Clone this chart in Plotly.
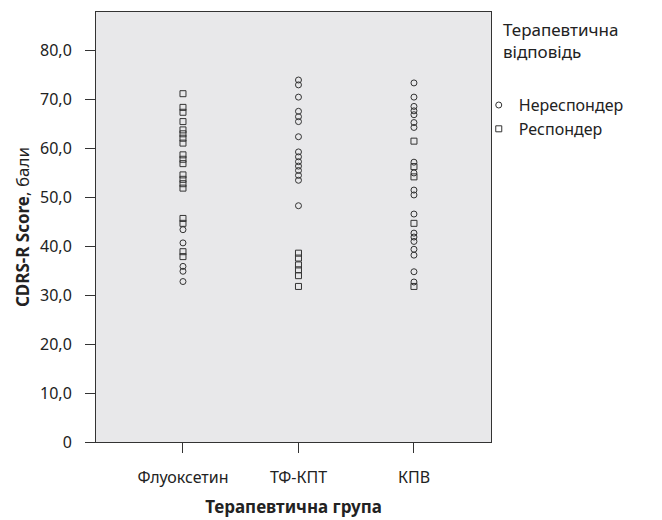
import plotly.graph_objects as go

categories = ["Флуоксетин", "ТФ-КПТ", "КПВ"]

# Нереспондер (circles) values per group
fluox_non = [43.4, 40.7, 35.9, 34.9, 32.8]
tfkpt_non = [74.0, 73.0, 70.5, 67.6, 66.5, 65.5, 62.4, 59.3, 58.3, 57.3, 56.4, 55.5, 54.5, 53.5, 48.3]
kpv_non = [73.4, 70.5, 68.6, 67.7, 66.9, 65.3, 64.3, 57.2, 55.0, 51.5, 50.5, 46.6, 42.7, 41.9, 41.0, 39.4, 38.2, 34.8, 32.7]

# Респондер (squares) values per group
fluox_resp = [71.2, 68.4, 67.4, 65.5, 63.8, 63.0, 62.1, 61.1, 58.7, 57.8, 56.9, 54.6, 53.7, 52.8, 51.9, 45.7, 44.7, 38.9, 37.9]
tfkpt_resp = [38.6, 37.6, 36.2, 35.2, 34.0, 31.8]
kpv_resp = [61.5, 56.3, 54.2, 44.7, 31.8]

ytick_vals = [0, 10, 20, 30, 40, 50, 60, 70, 80]
ytick_text = ["0", "10,0", "20,0", "30,0", "40,0", "50,0", "60,0", "70,0", "80,0"]

legend_title = "Терапевтична<br>відповідь"
series_names = ["Нереспондер", "Респондер"]
y_title = "<b>CDRS-R Score</b>, бали"
x_title = "<b>Терапевтична група</b>"

FONT = "Noto Sans"
INK = "#222222"

def xs(cat_index, vals):
    return [cat_index] * len(vals)

non_x = xs(0, fluox_non) + xs(1, tfkpt_non) + xs(2, kpv_non)
non_y = fluox_non + tfkpt_non + kpv_non
resp_x = xs(0, fluox_resp) + xs(1, tfkpt_resp) + xs(2, kpv_resp)
resp_y = fluox_resp + tfkpt_resp + kpv_resp

fig = go.Figure()
fig.add_trace(go.Scatter(
    x=non_x, y=non_y, mode="markers", name=series_names[0],
    marker=dict(symbol="circle-open", size=6, color="#333333", line=dict(width=1, color="#333333")),
))
fig.add_trace(go.Scatter(
    x=resp_x, y=resp_y, mode="markers", name=series_names[1],
    marker=dict(symbol="square-open", size=6, color="#333333", line=dict(width=1, color="#333333")),
))

# page body adds an 8px offset; margins compensate for it
fig.update_layout(
    width=662, height=520,
    margin=dict(l=88, r=179, t=4, b=86, autoexpand=False),
    paper_bgcolor="white",
    plot_bgcolor="#e8e8ea",
    font=dict(family=FONT, size=16, color=INK),
    showlegend=True,
    legend=dict(
        x=0.969, xanchor="left", y=0.823, yanchor="top",
        font=dict(family=FONT, size=16, color=INK),
        itemwidth=30, tracegroupgap=0,
        bgcolor="rgba(0,0,0,0)",
    ),
    annotations=[dict(
        text=legend_title, x=1.025, y=0.99, xref="paper", yref="paper",
        xanchor="left", yanchor="top", align="left", showarrow=False,
        font=dict(family=FONT, size=17, color=INK),
    )],
)

fig.update_xaxes(
    range=[-0.753, 2.667],
    tickvals=[0, 1, 2], ticktext=categories,
    ticks="outside", ticklen=10, tickcolor="#333333",
    showline=True, linecolor="#333333", linewidth=1, mirror=True,
    showgrid=False, zeroline=False, automargin=False,
    ticklabelstandoff=11,
    tickfont=dict(family=FONT, size=16, color=INK),
    title=dict(text=x_title, font=dict(family=FONT, size=17, color=INK), standoff=13),
)
fig.update_yaxes(
    range=[0, 87.9],
    tickvals=ytick_vals, ticktext=ytick_text,
    ticks="outside", ticklen=10, tickcolor="#333333",
    showline=True, linecolor="#333333", linewidth=1, mirror=True,
    showgrid=False, zeroline=False, automargin=False,
    ticklabelstandoff=10,
    tickfont=dict(family=FONT, size=16, color=INK),
    title=dict(text=y_title, font=dict(family=FONT, size=17, color=INK), standoff=6),
)

fig.write_html("out.html")
